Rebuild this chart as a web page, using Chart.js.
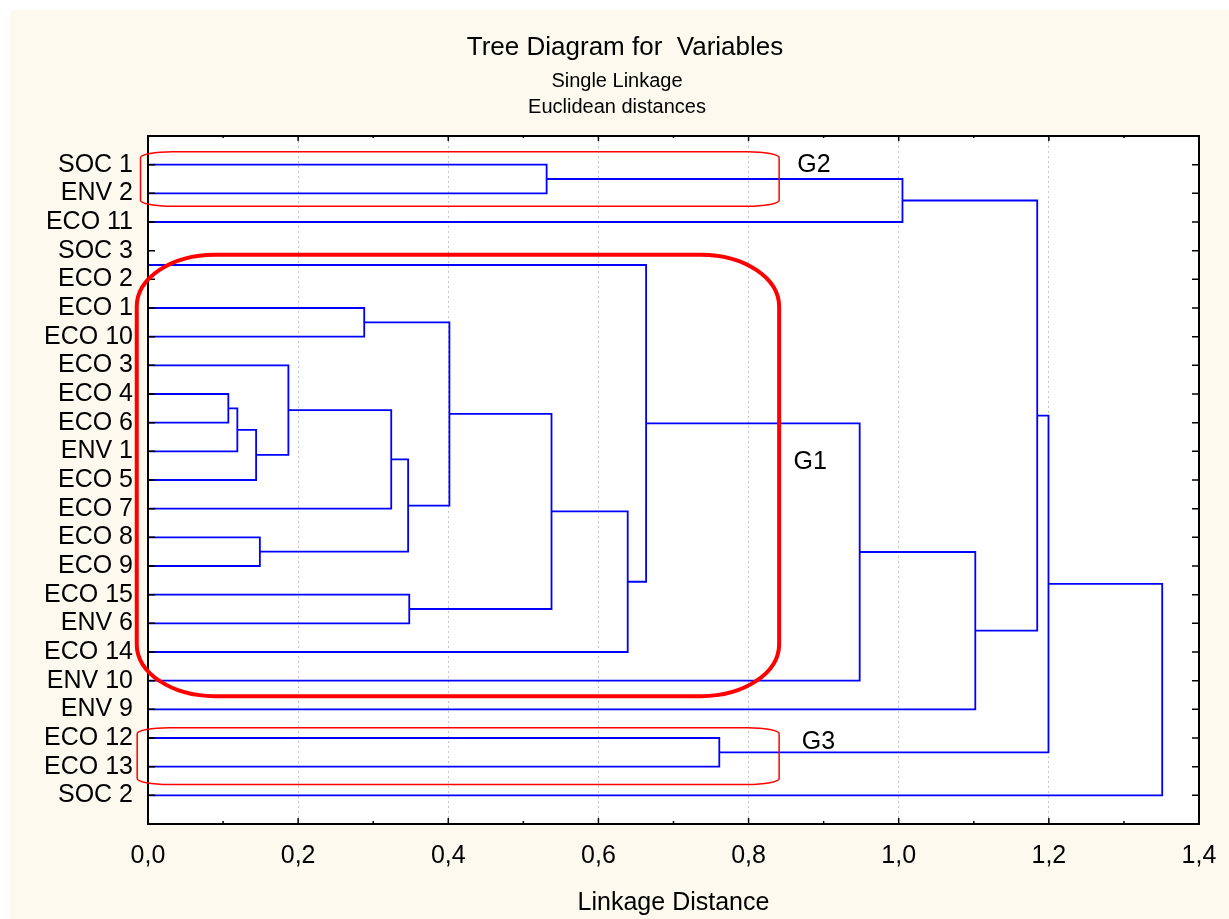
<!DOCTYPE html>
<html>
<head>
<meta charset="utf-8">
<title>Tree Diagram for Variables</title>
<script src="https://cdn.jsdelivr.net/npm/chart.js@4.4.0/dist/chart.umd.min.js"></script>
<style>
  html, body { margin: 0; padding: 0; background: #ffffff; overflow: hidden; }
  #chart { display: block; }
</style>
</head>
<body>
<canvas id="chart" width="1229" height="919"></canvas>
<script>
// Leaves of the tree, top to bottom
const leafLabels = ['SOC 1', 'ENV 2', 'ECO 11', 'SOC 3', 'ECO 2', 'ECO 1', 'ECO 10', 'ECO 3',
    'ECO 4', 'ECO 6', 'ENV 1', 'ECO 5', 'ECO 7', 'ECO 8', 'ECO 9', 'ECO 15', 'ENV 6',
    'ECO 14', 'ENV 10', 'ENV 9', 'ECO 12', 'ECO 13', 'SOC 2'];

// Merge steps: index < 23 is a leaf, otherwise cluster made by merge (index - 23)
const mergeLeft   = [0, 23, 3, 5, 8, 27, 28, 7, 30, 13, 31, 26, 15, 34, 36, 25, 38, 39, 24, 20, 41, 43];
const mergeRight  = [1, 2, 4, 6, 9, 10, 11, 29, 12, 14, 32, 33, 16, 35, 17, 37, 18, 19, 40, 21, 42, 22];
const mergeHeight = [0.531, 1.005, 0.0, 0.288, 0.107, 0.119, 0.144, 0.187, 0.324, 0.149, 0.3465,
    0.4015, 0.348, 0.5375, 0.639, 0.6635, 0.948, 1.102, 1.1845, 0.761, 1.1995, 1.351];

// Group labels drawn on the chart
const groupNames = ['G2', 'G1', 'G3'];

const FONT = '"Liberation Sans", Arial, Helvetica, sans-serif';
const CREAM = '#fef9ee';

// Node positions: leaf at distance 0, cluster at its merge height, y = mean of children
const nodeX = leafLabels.map(() => 0);
const nodeY = leafLabels.map((l, i) => i);
mergeHeight.forEach((h, k) => {
    nodeX.push(h);
    nodeY.push((nodeY[mergeLeft[k]] + nodeY[mergeRight[k]]) / 2);
});

// One U-shaped link per merge
const linkDatasets = mergeHeight.map((h, k) => {
    const a = mergeLeft[k], b = mergeRight[k];
    return {
        data: [
            { x: nodeX[a], y: nodeY[a] },
            { x: h, y: nodeY[a] },
            { x: h, y: nodeY[b] },
            { x: nodeX[b], y: nodeY[b] }
        ],
        showLine: true,
        borderColor: '#0000ff',
        borderWidth: 1.8,
        pointRadius: 0,
        tension: 0,
        fill: false
    };
});

// Red group outlines (x in distance units, y in row units)
const groupBoxes = [
    { name: groupNames[0], x1: -0.010, x2: 0.8407, y1: -0.45, y2: 1.45, rx: 32, ry: 6, width: 1.5, lx: 0.865, ly: 0.24 },
    { name: groupNames[1], x1: -0.015, x2: 0.8407, y1: 3.14, y2: 18.54, rx: 78, ry: 52, width: 4, lx: 0.860, ly: 10.61 },
    { name: groupNames[2], x1: -0.0144, x2: 0.8407, y1: 19.64, y2: 21.62, rx: 32, ry: 6, width: 1.5, lx: 0.871, ly: 20.37 }
];

function ovalRect(ctx, x1, y1, x2, y2, rx, ry) {
    ctx.beginPath();
    ctx.moveTo(x1 + rx, y1);
    ctx.lineTo(x2 - rx, y1);
    ctx.ellipse(x2 - rx, y1 + ry, rx, ry, 0, -Math.PI / 2, 0);
    ctx.lineTo(x2, y2 - ry);
    ctx.ellipse(x2 - rx, y2 - ry, rx, ry, 0, 0, Math.PI / 2);
    ctx.lineTo(x1 + rx, y2);
    ctx.ellipse(x1 + rx, y2 - ry, rx, ry, 0, Math.PI / 2, Math.PI);
    ctx.lineTo(x1, y1 + ry);
    ctx.ellipse(x1 + rx, y1 + ry, rx, ry, 0, Math.PI, Math.PI * 1.5);
    ctx.closePath();
}

const decor = {
    id: 'decor',
    beforeDraw(chart) {
        const ctx = chart.ctx;
        const area = chart.chartArea;
        ctx.save();
        ctx.fillStyle = '#ffffff';
        ctx.fillRect(0, 0, chart.width, chart.height);
        ctx.fillStyle = CREAM;
        ctx.fillRect(10, 10, chart.width - 10, chart.height - 10);
        ctx.fillStyle = '#ffffff';
        ctx.fillRect(area.left, area.top, area.right - area.left, area.bottom - area.top);

        // titles
        ctx.fillStyle = '#000000';
        ctx.textAlign = 'center';
        ctx.textBaseline = 'alphabetic';
        ctx.font = '26px ' + FONT;
        ctx.fillText('Tree Diagram for  Variables', 625, 55);
        ctx.font = '20px ' + FONT;
        ctx.fillText('Single Linkage', 617, 87);
        ctx.fillText('Euclidean distances', 617, 113);
        ctx.restore();
    },
    afterDatasetsDraw(chart) {
        const ctx = chart.ctx;
        const area = chart.chartArea;
        const xs = chart.scales.x;
        const ys = chart.scales.y;
        ctx.save();

        // frame
        ctx.strokeStyle = '#000000';
        ctx.lineWidth = 2;
        ctx.strokeRect(area.left, area.top, area.right - area.left, area.bottom - area.top);

        // inward ticks
        ctx.lineWidth = 1.5;
        ctx.beginPath();
        for (let i = 0; i <= 14; i++) {
            const px = xs.getPixelForValue(i / 10);
            const len = i % 2 === 0 ? 6 : 3;
            ctx.moveTo(px, area.bottom);
            ctx.lineTo(px, area.bottom - len);
            ctx.moveTo(px, area.top);
            ctx.lineTo(px, area.top + len - 1);
        }
        leafLabels.forEach((l, i) => {
            const py = ys.getPixelForValue(i);
            ctx.moveTo(area.left, py);
            ctx.lineTo(area.left + 7, py);
            ctx.moveTo(area.right, py);
            ctx.lineTo(area.right - 7, py);
        });
        ctx.stroke();

        // group outlines and names
        groupBoxes.forEach(g => {
            const x1 = xs.getPixelForValue(g.x1), x2 = xs.getPixelForValue(g.x2);
            const y1 = ys.getPixelForValue(g.y1), y2 = ys.getPixelForValue(g.y2);
            ctx.strokeStyle = '#ff0000';
            ctx.lineWidth = g.width;
            ovalRect(ctx, x1, y1, x2, y2, g.rx, g.ry);
            ctx.stroke();
            ctx.fillStyle = '#000000';
            ctx.font = '25px ' + FONT;
            ctx.textAlign = 'left';
            ctx.textBaseline = 'alphabetic';
            ctx.fillText(g.name, xs.getPixelForValue(g.lx), ys.getPixelForValue(g.ly));
        });
        ctx.restore();
    }
};

new Chart(document.getElementById('chart'), {
    type: 'scatter',
    data: { datasets: linkDatasets },
    options: {
        responsive: false,
        devicePixelRatio: 1,
        animation: false,
        layout: { padding: { left: 0, right: 30, top: 136, bottom: 0 } },
        plugins: {
            legend: { display: false },
            tooltip: { enabled: false }
        },
        scales: {
            x: {
                type: 'linear',
                min: 0,
                max: 1.4,
                afterFit: scale => {
                    scale.height = 95;
                    scale.paddingLeft = 0;
                    scale.paddingRight = 0;
                },
                border: { display: false, dash: [2, 3] },
                grid: {
                    drawTicks: false,
                    lineWidth: 1,
                    color: ctx => {
                        const v = ctx.tick.value;
                        return (Math.abs(v) < 1e-6 || Math.abs(v - 1.4) < 1e-6) ? 'rgba(0,0,0,0)' : '#c4c4c4';
                    }
                },
                ticks: {
                    stepSize: 0.2,
                    padding: 17,
                    color: '#000000',
                    font: { family: FONT, size: 25 },
                    callback: v => v.toFixed(1).replace('.', ',')
                },
                title: {
                    display: true,
                    text: 'Linkage Distance',
                    color: '#000000',
                    font: { family: FONT, size: 25 },
                    padding: { top: 0, bottom: 1 }
                }
            },
            y: {
                type: 'linear',
                min: -1,
                max: 23,
                reverse: true,
                afterFit: scale => { scale.width = 148; },
                border: { display: false },
                grid: { display: false, drawTicks: false },
                ticks: {
                    stepSize: 1,
                    autoSkip: false,
                    padding: 15,
                    color: '#000000',
                    font: { family: FONT, size: 25 },
                    callback: v => (Number.isInteger(v) && leafLabels[v]) ? leafLabels[v] : ''
                }
            }
        }
    },
    plugins: [decor]
});
</script>
</body>
</html>
